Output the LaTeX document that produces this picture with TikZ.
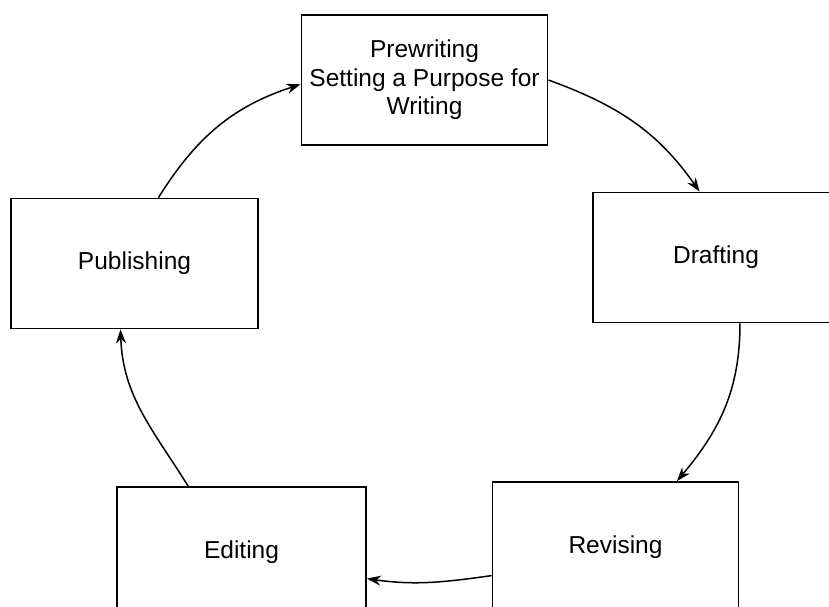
\documentclass[tikz,border=0pt]{standalone}
\usepackage{fontspec}
\setmainfont{Liberation Sans}
\usetikzlibrary{arrows.meta}

\tikzset{
	stage/.style = {draw, line width = 1.8pt, inner sep = 0pt, align = center,
		minimum width = 246pt, minimum height = 130pt,
		font = \fontsize{24.5}{28.5}\selectfont},
	cycle/.style = {->, line width = 1.5pt}
}

\begin{document}
\begin{tikzpicture}[> = {Stealth[length = 14pt, width = 10pt]}, x = 1pt, y = -1pt]

	\clip (0, 0) rectangle (829, 607);

	% Stages
	
	\node [stage] (pre) at (424.5, 80) {Prewriting\\Setting a Purpose for\\Writing};
	\node [stage] (draft) at (716, 257.5) {Drafting};
	\node [stage] (rev) at (615.5, 547) {Revising};
	\node [stage, minimum width = 249pt] (edit) at (241.5, 552) {Editing};
	\node [stage, minimum width = 247pt] (pub) at (134.5, 263.5) {Publishing};
	
	% Cycle arrows
	
	\draw [cycle] (pre.east) to [out = -20, in = 125] (draft.104);
	\draw [cycle] (draft.290) to [out = -90, in = 50] (rev.47);
	\draw [cycle] (rev.193) to [out = 188, in = -8] (edit.-12);
	\draw [cycle] (edit.129) to [out = 122, in = -88] (pub.258);
	\draw [cycle] (pub.70) to [out = 58, in = 198] (pre.182);

\end{tikzpicture}
\end{document}
